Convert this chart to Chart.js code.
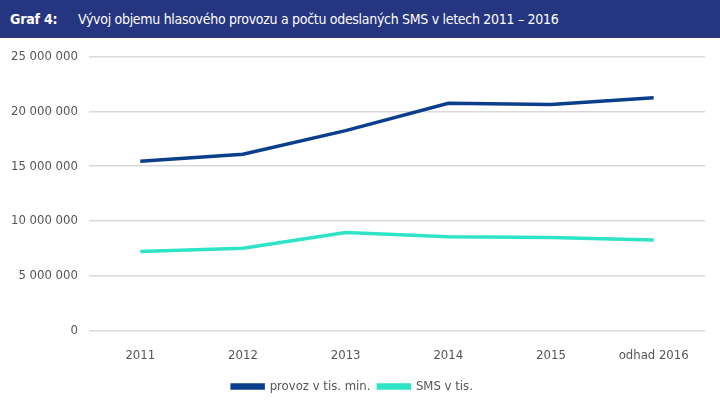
<!DOCTYPE html>
<html lang="cs">
<head>
  <meta charset="UTF-8">
  <title>Graf 4</title>
  <script src="https://cdn.jsdelivr.net/npm/chart.js@4/dist/chart.umd.min.js"></script>
  <style>
    body {
      margin: 0;
      width: 720px;
      height: 405px;
      background: #fff;
      font-family: "DejaVu Sans Condensed", Lato, sans-serif;
      overflow: hidden;
    }
    .header {
      height: 38px;
      background: #263580;
      color: #fff;
      font-size: 14px;
      line-height: 38px;
      position: relative;
    }
    .header b { position: absolute; left: 10px; letter-spacing: -0.2px; }
    .header span { position: absolute; left: 78px; letter-spacing: -0.3px; }
    .plot-container {
      width: 720px;
      height: 367px;
      position: relative;
    }
  </style>
</head>
<body>
  <div class="header"><b>Graf 4:</b><span>Vývoj objemu hlasového provozu a počtu odeslaných SMS v letech 2011 – 2016</span></div>
  <div class="plot-container">
    <canvas id="plot"></canvas>
  </div>

  <script>
    const years = ['2011', '2012', '2013', '2014', '2015', 'odhad 2016'];
    const provoz = [15450000, 16100000, 18250000, 20750000, 20650000, 21250000];
    const sms = [7200000, 7500000, 8950000, 8550000, 8500000, 8250000];

    const fontFamily = '"DejaVu Sans Condensed", Lato, sans-serif';

    function fmt(v) {
      return String(v).replace(/\B(?=(\d{3})+(?!\d))/g, ' ');
    }

    const config = {
      type: 'line',
      data: {
        labels: years,
        datasets: [{
          label: 'provoz v tis. min.',
          data: provoz,
          borderColor: '#0b3f8e',
          backgroundColor: '#0b3f8e',
          borderWidth: 3.5,
          pointRadius: 0,
          tension: 0
        }, {
          label: 'SMS v tis.',
          data: sms,
          borderColor: '#2ee3c6',
          backgroundColor: '#2ee3c6',
          borderWidth: 3.5,
          pointRadius: 0,
          tension: 0
        }]
      },
      options: {
        responsive: true,
        maintainAspectRatio: false,
        animation: false,
        layout: { padding: { top: 13, right: 15, left: 0, bottom: 2 } },
        plugins: {
          tooltip: { enabled: false },
          legend: {
            position: 'bottom',
            labels: {
              boxWidth: 31,
              boxHeight: 3,
              padding: 8,
              color: '#555',
              font: { family: fontFamily, size: 13 }
            }
          }
        },
        scales: {
          x: {
            offset: true,
            grid: { display: false },
            border: { display: false },
            ticks: {
              color: '#555',
              padding: 9,
              font: { family: fontFamily, size: 13 }
            }
          },
          y: {
            min: 0,
            max: 25000000,
            grid: { color: '#d9d9d9', lineWidth: 1.5, drawTicks: false },
            border: { display: false },
            ticks: {
              stepSize: 5000000,
              color: '#555',
              padding: 11,
              font: { family: fontFamily, size: 13 },
              callback: (v) => fmt(v)
            }
          }
        }
      }
    };

    new Chart(document.getElementById('plot'), config);
  </script>
</body>
</html>
